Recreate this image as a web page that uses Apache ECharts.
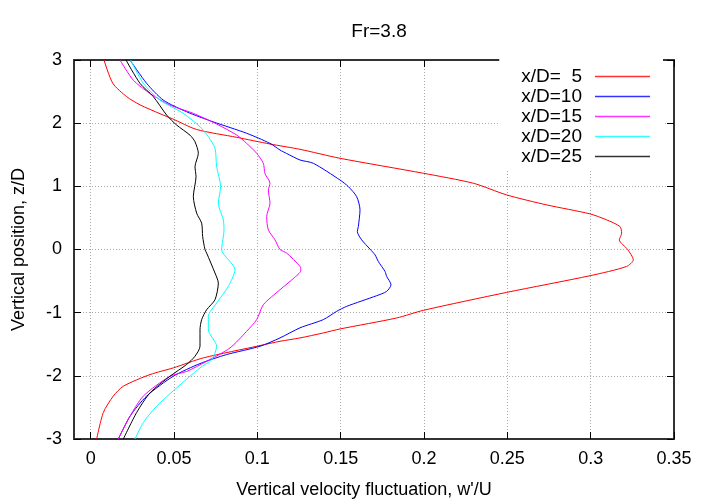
<!DOCTYPE html>
<html>
<head>
<meta charset="utf-8">
<script src="https://cdn.jsdelivr.net/npm/echarts@6/dist/echarts.min.js"></script>
<style>html,body{margin:0;padding:0;background:#fff;}#c{width:720px;height:504px;}</style>
</head>
<body>
<div id="c"></div>
<script>
var seriesNames = ['x/D=  5', 'x/D=10', 'x/D=15', 'x/D=20', 'x/D=25'];
var xTicks = [0, 0.05, 0.1, 0.15, 0.2, 0.25, 0.3, 0.35];

var z5 = [3, 2.63, 2.42, 2.29, 2.15, 2.07, 1.90, 1.776, 1.67, 1.586, 1.444, 1.207, 1.049, 0.864, 0.706, 0.564, 0.469, 0.363, 0.259, 0.153, 0.0, -0.163, -0.268, -0.415, -0.679, -0.963, -1.084, -1.258, -1.321, -1.40, -1.453, -1.521, -1.716, -1.874, -1.98, -2.164, -2.32, -2.58, -3];
var w5 = [0.008, 0.0133, 0.0216, 0.0296, 0.0416, 0.049, 0.0636, 0.0876, 0.1076, 0.1256, 0.1496, 0.1996, 0.2296, 0.2496, 0.2736, 0.2996, 0.3096, 0.3176, 0.3186, 0.3172, 0.3222, 0.3256, 0.3216, 0.2996, 0.2496, 0.1996, 0.1836, 0.1496, 0.1396, 0.1256, 0.1136, 0.1016, 0.0676, 0.0496, 0.0356, 0.0196, 0.0136, 0.0076, 0.0036];

var z10 = [3, 2.63, 2.365, 2.18, 2.02, 1.84, 1.68, 1.575, 1.52, 1.417, 1.365, 1.10, 0.996, 0.837, 0.627, 0.363, 0.284, 0.153, 0.006, -0.084, -0.19, -0.347, -0.426, -0.558, -0.663, -0.731, -0.90, -0.979, -1.11, -1.24, -1.40, -1.532, -1.663, -1.806, -2.006, -2.32, -2.64, -3];
var w10 = [0.0236, 0.0336, 0.0436, 0.0576, 0.0736, 0.0936, 0.1076, 0.1136, 0.1176, 0.1256, 0.1336, 0.1496, 0.1546, 0.1596, 0.1616, 0.1606, 0.16, 0.1626, 0.1676, 0.1706, 0.1726, 0.1766, 0.1776, 0.1802, 0.1776, 0.1716, 0.1536, 0.1476, 0.1396, 0.1256, 0.1136, 0.1016, 0.0816, 0.0656, 0.0496, 0.0336, 0.0236, 0.0166];

var z15 = [3, 2.68, 2.47, 2.286, 2.155, 1.986, 1.812, 1.68, 1.523, 1.365, 1.2, 1.05, 0.943, 0.733, 0.521, 0.311, 0.153, 0.0, -0.057, -0.268, -0.336, -0.45, -0.637, -0.874, -1.11, -1.295, -1.558, -1.77, -1.93, -2.006, -2.32, -2.64, -3];
var w15 = [0.0176, 0.0256, 0.0356, 0.0476, 0.0616, 0.0756, 0.0876, 0.0936, 0.0996, 0.1036, 0.1046, 0.1076, 0.1066, 0.1076, 0.1056, 0.1066, 0.1106, 0.1136, 0.1176, 0.1256, 0.126, 0.122, 0.1136, 0.1036, 0.0996, 0.0936, 0.0836, 0.0696, 0.0576, 0.0476, 0.0316, 0.0236, 0.0166];

var z20 = [3, 2.63, 2.365, 2.155, 1.943, 1.785, 1.60, 1.31, 0.996, 0.733, 0.469, 0.311, 0.0, -0.32, -0.584, -0.847, -1.058, -1.269, -1.532, -1.743, -1.874, -2.19, -2.48, -2.74, -3];
var w20 = [0.024, 0.0316, 0.0416, 0.0556, 0.0656, 0.0706, 0.0746, 0.0756, 0.078, 0.0766, 0.0796, 0.08, 0.0786, 0.0866, 0.0826, 0.0756, 0.0706, 0.0706, 0.0756, 0.0726, 0.0656, 0.0516, 0.0396, 0.0316, 0.0266];

var z25 = [3, 2.63, 2.42, 2.128, 1.97, 1.81, 1.706, 1.523, 1.311, 1.153, 0.837, 0.575, 0.417, 0.205, 0.0, -0.057, -0.373, -0.531, -0.795, -0.953, -1.11, -1.269, -1.532, -1.69, -1.82, -2.006, -2.27, -2.58, -3];
var w25 = [0.0212, 0.0296, 0.0376, 0.0456, 0.0516, 0.0596, 0.0626, 0.0646, 0.0626, 0.0632, 0.0616, 0.0636, 0.0666, 0.0672, 0.0686, 0.0696, 0.0746, 0.0766, 0.0746, 0.0696, 0.0666, 0.0656, 0.0656, 0.0626, 0.0576, 0.0476, 0.0356, 0.0276, 0.0196];

var colors = ['#ff0000', '#0000ff', '#ff00ff', '#00ffff', '#000000'];
var allW = [w5, w10, w15, w20, w25];
var allZ = [z5, z10, z15, z20, z25];

function pairs(w, z) { return w.map(function (v, i) { return [v, z[i]]; }); }

var FONT = 'Liberation Sans';
var chart = echarts.init(document.getElementById('c'), null, { renderer: 'canvas' });

var gridLine = { show: true, lineStyle: { color: '#a8a8a8', type: [1, 2], width: 1 } };
var axisLineStyle = { show: true, onZero: false, lineStyle: { color: '#333', width: 2 } };
var tickStyle = { color: '#000', width: 1 };

var option = {
  backgroundColor: '#fff',
  animation: false,
  title: {
    text: 'Fr=3.8', left: 374, top: 17, textAlign: 'center',
    textStyle: { fontFamily: FONT, fontSize: 19, fontWeight: 'normal', color: '#000' }
  },
  grid: { left: 74, right: 46, top: 60, bottom: 64, containLabel: false },
  legend: {
    orient: 'vertical', right: 57, top: 59, align: 'right',
    backgroundColor: '#fff', padding: [8, 13, 4, 22],
    icon: 'rect', itemWidth: 55, itemHeight: 1.5, itemGap: 1,
    itemStyle: { borderWidth: 0, opacity: 0.8 },
    textStyle: { fontFamily: FONT, fontSize: 19, lineHeight: 14, color: '#000', padding: [0, 8, 0, 0] },
    data: seriesNames.map(function (n, i) { return { name: n, itemStyle: { color: colors[i], borderWidth: 0 } }; })
  },
  xAxis: [{
    type: 'value', min: -0.01, max: 0.35, position: 'bottom',
    name: "Vertical velocity fluctuation, w'/U", nameLocation: 'middle', nameGap: 42,
    nameTextStyle: { fontFamily: FONT, fontSize: 18, color: '#000', padding: [0, 20, 0, 0] },
    axisLine: axisLineStyle,
    axisTick: { show: true, inside: true, length: 7, customValues: xTicks, lineStyle: tickStyle },
    axisLabel: { customValues: xTicks, margin: 11, fontFamily: FONT, fontSize: 18, color: '#000' },
    splitLine: gridLine
  }, {
    type: 'value', min: -0.01, max: 0.35, position: 'top',
    axisLine: axisLineStyle,
    axisTick: { show: true, inside: true, length: 7, customValues: xTicks, lineStyle: tickStyle },
    axisLabel: { show: false, customValues: xTicks },
    splitLine: { show: false }
  }],
  yAxis: [{
    type: 'value', min: -3, max: 3, interval: 1, position: 'left',
    name: 'Vertical position, z/D', nameLocation: 'middle', nameGap: 46, nameRotate: 90,
    nameTextStyle: { fontFamily: FONT, fontSize: 18, color: '#000' },
    axisLine: axisLineStyle,
    axisTick: { show: true, inside: true, length: 7, lineStyle: tickStyle },
    axisLabel: { margin: 12, fontFamily: FONT, fontSize: 18, color: '#000' },
    splitLine: gridLine
  }, {
    type: 'value', min: -3, max: 3, interval: 1, position: 'right',
    axisLine: axisLineStyle,
    axisTick: { show: true, inside: true, length: 7, lineStyle: tickStyle },
    axisLabel: { show: false },
    splitLine: { show: false }
  }],
  series: seriesNames.map(function (n, i) {
    return {
      name: n, type: 'line', xAxisIndex: 0, yAxisIndex: 0,
      data: pairs(allW[i], allZ[i]),
      showSymbol: false, symbol: 'none', smooth: 0.25, clip: true,
      color: colors[i],
      lineStyle: { color: colors[i], width: 1 }
    };
  })
};
chart.setOption(option);
</script>
</body>
</html>
